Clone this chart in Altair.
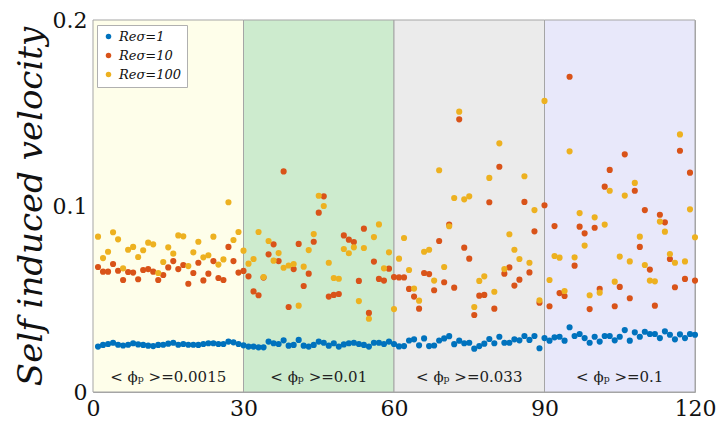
import altair as alt
import pandas as pd

x_index = list(range(1, 121))

re1 = [0.0244, 0.0253, 0.0258, 0.0265, 0.0254, 0.0250, 0.0254, 0.0262, 0.0256, 0.0253,
       0.0249, 0.0247, 0.0253, 0.0254, 0.0260, 0.0265, 0.0254, 0.0258, 0.0254, 0.0254,
       0.0253, 0.0258, 0.0262, 0.0262, 0.0258, 0.0258, 0.0271, 0.0267, 0.0258, 0.0251,
       0.0244, 0.0244, 0.0240, 0.0240, 0.0271, 0.0262, 0.0258, 0.0278, 0.0249, 0.0253,
       0.0280, 0.0249, 0.0244, 0.0253, 0.0271, 0.0265, 0.0249, 0.0262, 0.0244, 0.0256,
       0.0262, 0.0265, 0.0258, 0.0253, 0.0244, 0.0265, 0.0265, 0.0258, 0.0271, 0.0258,
       0.0245, 0.0247, 0.0277, 0.0283, 0.0251, 0.0288, 0.0247, 0.0250, 0.0277, 0.0288,
       0.0300, 0.0257, 0.0276, 0.0262, 0.0265, 0.0233, 0.0247, 0.0260, 0.0285, 0.0262,
       0.0297, 0.0265, 0.0265, 0.0283, 0.0278, 0.0301, 0.0280, 0.0301, 0.0235, 0.0290,
       0.0276, 0.0294, 0.0297, 0.0276, 0.0348, 0.0301, 0.0312, 0.0290, 0.0265, 0.0297,
       0.0271, 0.0301, 0.0301, 0.0278, 0.0297, 0.0333, 0.0276, 0.0321, 0.0297, 0.0324,
       0.0312, 0.0312, 0.0290, 0.0326, 0.0308, 0.0283, 0.0310, 0.0290, 0.0312, 0.0308]

re10 = [0.0672, 0.0647, 0.0647, 0.0688, 0.0652, 0.0602, 0.0645, 0.0642, 0.0606, 0.0656,
        0.0661, 0.0647, 0.0602, 0.0629, 0.0670, 0.0704, 0.0661, 0.0683, 0.0582, 0.0640,
        0.0695, 0.0600, 0.0636, 0.0704, 0.0613, 0.0602, 0.0780, 0.0704, 0.0642, 0.0651,
        0.0622, 0.0541, 0.0520, 0.0615, 0.0740, 0.0794, 0.0704, 0.1186, 0.0457, 0.0661,
        0.0796, 0.0570, 0.0636, 0.0808, 0.0964, 0.1052, 0.0513, 0.0522, 0.0527, 0.0842,
        0.0819, 0.0806, 0.0597, 0.0878, 0.0425, 0.0701, 0.0608, 0.0599, 0.0663, 0.0618,
        0.0616, 0.0616, 0.0554, 0.0513, 0.0448, 0.0640, 0.0634, 0.0547, 0.0812, 0.0590,
        0.0900, 0.0561, 0.1466, 0.0776, 0.0717, 0.0414, 0.0518, 0.0522, 0.1020, 0.0448,
        0.1211, 0.0636, 0.0670, 0.0572, 0.0604, 0.1022, 0.0643, 0.0864, 0.0480, 0.1004,
        0.0461, 0.0892, 0.0532, 0.0516, 0.1695, 0.0679, 0.0889, 0.0853, 0.0446, 0.0883,
        0.0554, 0.1104, 0.1194, 0.0461, 0.0565, 0.1278, 0.0504, 0.1082, 0.0780, 0.0978,
        0.0658, 0.0464, 0.0953, 0.0912, 0.0715, 0.0563, 0.1297, 0.0608, 0.1179, 0.0599]

re100 = [0.0835, 0.0720, 0.0754, 0.0859, 0.0821, 0.0665, 0.0765, 0.0780, 0.0726, 0.0762,
         0.0803, 0.0794, 0.0640, 0.0699, 0.0778, 0.0744, 0.0842, 0.0837, 0.0677, 0.0751,
         0.0808, 0.0724, 0.0735, 0.0835, 0.0685, 0.0713, 0.1020, 0.0817, 0.0860, 0.0760,
         0.0690, 0.0715, 0.0860, 0.0618, 0.0812, 0.0706, 0.0747, 0.0668, 0.0680, 0.0688,
         0.0464, 0.0674, 0.0763, 0.0849, 0.1055, 0.1000, 0.0695, 0.0613, 0.0609, 0.0769,
         0.0746, 0.0778, 0.0489, 0.0774, 0.0394, 0.0833, 0.0901, 0.0665, 0.0751, 0.0446,
         0.0717, 0.0828, 0.0656, 0.0556, 0.0491, 0.0754, 0.0765, 0.0599, 0.1192, 0.0672,
         0.0891, 0.1043, 0.1507, 0.1036, 0.1052, 0.0457, 0.0597, 0.0622, 0.1151, 0.0539,
         0.1337, 0.0661, 0.0848, 0.0765, 0.0715, 0.1160, 0.0695, 0.0978, 0.0493, 0.1565,
         0.0602, 0.0731, 0.0722, 0.0543, 0.1294, 0.0724, 0.0962, 0.0787, 0.0520, 0.0939,
         0.0534, 0.0900, 0.1082, 0.0593, 0.0728, 0.1056, 0.0702, 0.1124, 0.0835, 0.0683,
         0.0599, 0.0595, 0.0916, 0.0862, 0.0742, 0.0695, 0.1385, 0.0702, 0.0982, 0.0832]

series_names = ["Reσ=1", "Reσ=10", "Reσ=100"]
series_colors = ["#0072BD", "#D95319", "#EDB120"]

band_start = [0, 30, 60, 90]
band_end = [30, 60, 90, 120]
band_mid = [15, 45, 75, 105]
band_fill = ["#FEFEEA", "#CDEBCE", "#EBEBEB", "#E8E8FA"]
band_label = ["< ϕₚ >=0.0015", "< ϕₚ >=0.01", "< ϕₚ >=0.033", "< ϕₚ >=0.1"]
label_level = [0.0078, 0.0078, 0.0078, 0.0078]

x_ticks = [0, 30, 60, 90, 120]
y_ticks = [0, 0.1, 0.2]

rows = []
for name, vals in zip(series_names, [re1, re10, re100]):
    for xi, v in zip(x_index, vals):
        rows.append({"x": xi, "v": v, "series": name})
pts = pd.DataFrame(rows)

bands = pd.DataFrame({"x0": band_start, "x1": band_end, "mid": band_mid,
                      "fill": band_fill, "label": band_label, "ly": label_level})

W, H = 602, 372
SERIF = "DejaVu Serif"

xscale = alt.Scale(domain=[0, 120], nice=False, zero=False)
yscale = alt.Scale(domain=[0, 0.2], nice=False, zero=False)

x_axis = alt.Axis(values=x_ticks, title=None, labelFont=SERIF, labelFontSize=22,
                  labelColor="#111111", ticks=False, domain=False, grid=False,
                  labelPadding=6, labelFlush=False)
y_axis = alt.Axis(values=y_ticks, format="~g", title="Self induced velocity",
                  titleFont=SERIF, titleFontStyle="italic", titleFontWeight="normal",
                  titleFontSize=34, titleColor="#111111", titleX=-62, titleY=H / 2,
                  titleAngle=270, titleAlign="center", titleBaseline="middle",
                  labelFont=SERIF, labelFontSize=22, labelColor="#111111",
                  ticks=False, domain=False, grid=False, labelPadding=6,
                  labelFlush=False)

rect = alt.Chart(bands).mark_rect(stroke="#a5a5a5", strokeWidth=1).encode(
    x=alt.X("x0:Q", scale=xscale, axis=x_axis),
    x2="x1:Q",
    y=alt.value(0),
    y2=alt.value(H),
    fill=alt.Fill("fill:N", scale=None, legend=None),
)

labels = alt.Chart(bands).mark_text(
    font=SERIF, fontSize=15, color="#222222", baseline="middle", align="center"
).encode(
    x=alt.X("mid:Q", scale=xscale, axis=x_axis),
    y=alt.Y("ly:Q", scale=yscale, axis=y_axis),
    text="label:N",
)

points = alt.Chart(pts).mark_circle(size=38, opacity=1).encode(
    x=alt.X("x:Q", scale=xscale, axis=x_axis),
    y=alt.Y("v:Q", scale=yscale, axis=y_axis),
    color=alt.Color("series:N",
                    scale=alt.Scale(domain=series_names, range=series_colors),
                    legend=alt.Legend(title=None, orient="none", legendX=4, legendY=5,
                                      fillColor="white", strokeColor="#b0b0b0", padding=5,
                                      labelFont=SERIF, labelFontStyle="italic",
                                      labelFontSize=13, labelColor="#111111",
                                      symbolType="circle", symbolSize=30,
                                      symbolStrokeWidth=0, rowPadding=5)),
)

chart = alt.layer(rect, labels, points).properties(
    width=W, height=H,
    padding={"left": 93, "top": 20, "right": 21, "bottom": 32},
    autosize=alt.AutoSizeParams(type="none"),
    background="white",
).configure_view(stroke="#a5a5a5", strokeWidth=1)

chart.save("out.html", embed_options={"renderer": "svg", "actions": False})
